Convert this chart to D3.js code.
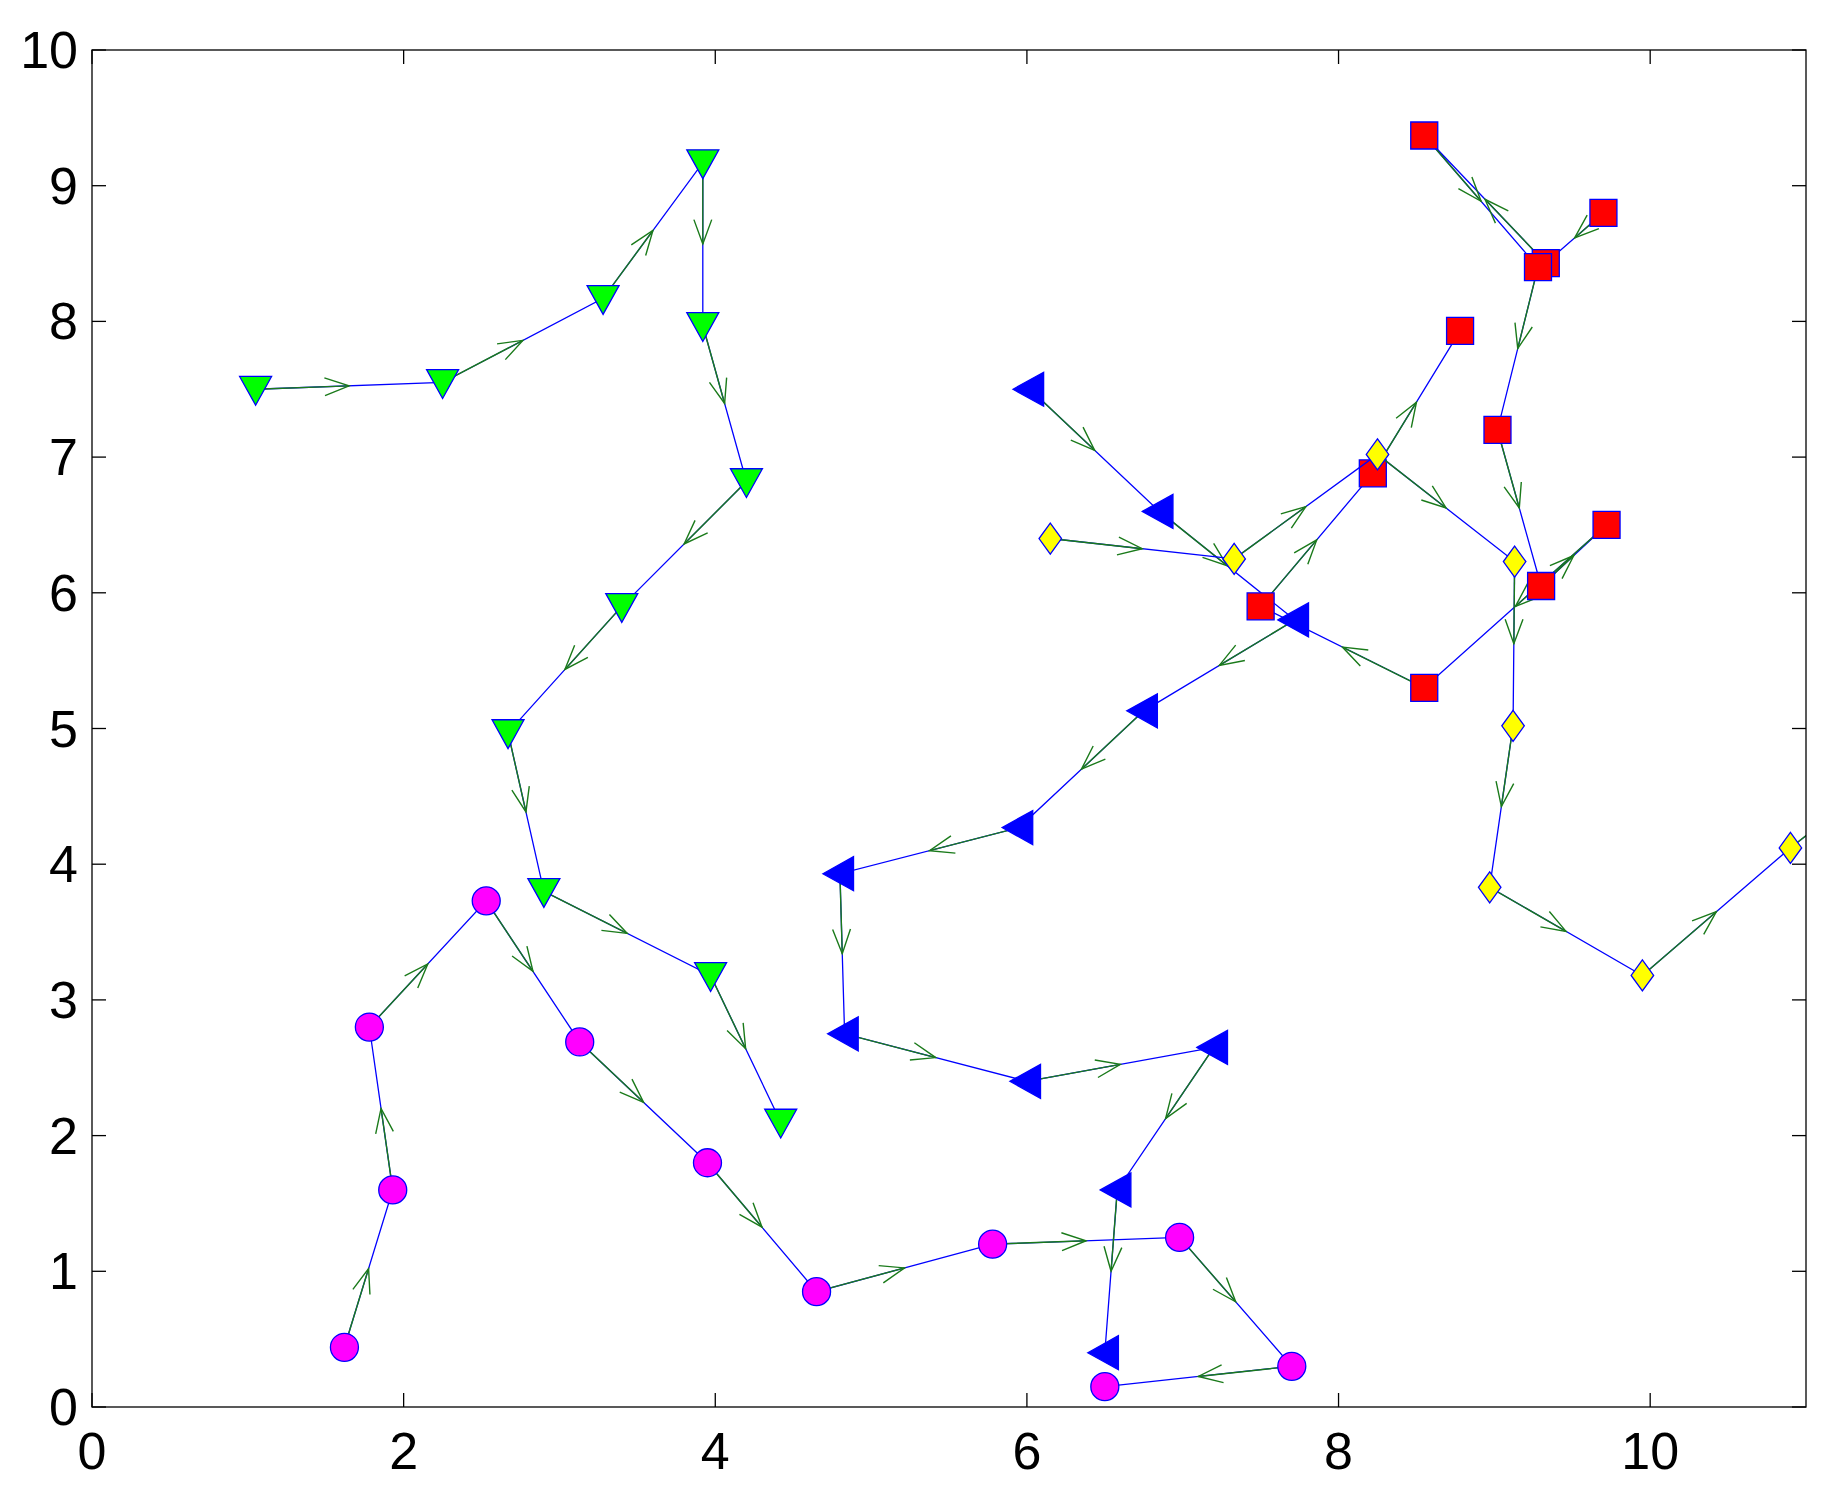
<!DOCTYPE html>
<html><head><meta charset="utf-8">
<script src="https://cdn.jsdelivr.net/npm/d3@7"></script>
<style>body{margin:0;background:#fff}svg{display:block}</style></head>
<body><svg id="c" width="1840" height="1500"></svg>
<script>
const xTicks=[0,2,4,6,8,10];
const yTicks=[0,1,2,3,4,5,6,7,8,9,10];
const circX=[1.62,1.93,1.78,2.53,3.13,3.95,4.65,5.78,6.98,7.70,6.50];
const circY=[0.44,1.60,2.80,3.73,2.69,1.80,0.85,1.20,1.25,0.30,0.15];
const downX=[1.05,2.25,3.28,3.92,3.92,4.20,3.40,2.67,2.90,3.97,4.42];
const downY=[7.50,7.55,8.17,9.17,7.97,6.82,5.90,4.97,3.80,3.18,2.10];
const leftX=[6.02,6.85,7.72,6.75,5.95,4.80,4.83,6.00,7.20,6.58,6.50];
const leftY=[7.50,6.60,5.80,5.13,4.27,3.93,2.75,2.40,2.65,1.60,0.40];
const sqX=[9.70,9.33,8.55,9.28,9.02,9.30,9.72,8.55,7.50,8.22,8.78];
const sqY=[8.80,8.43,9.37,8.40,7.20,6.05,6.50,5.30,5.90,6.88,7.93];
const diaX=[6.15,7.33,8.25,9.13,9.12,8.97,9.95,10.90,11.60];
const diaY=[6.40,6.25,7.02,6.23,5.02,3.83,3.18,4.12,4.75];

const svg=d3.select("#c");
const L=92,R=1806,T=50,B=1407;
const x=d3.scaleLinear().domain([0,11]).range([L,R]);
const y=d3.scaleLinear().domain([0,10]).range([B,T]);
svg.append("defs").append("clipPath").attr("id","clip").append("rect").attr("x",L).attr("y",T).attr("width",R-L).attr("height",B-T);
const g=svg.append("g").attr("clip-path","url(#clip)");

function series(X,Y,shape,fill,size,nMarks){
  const pts=X.map((v,i)=>[x(v),y(Y[i])]);
  g.append("path").attr("d",d3.line()(pts)).attr("fill","none").attr("stroke","#0000ff").attr("stroke-width",1.3);
  for(let i=0;i<pts.length-1;i++){
    const [x0,y0]=pts[i],[x1,y1]=pts[i+1];
    const mx=(x0+x1)/2,my=(y0+y1)/2;
    const a=Math.atan2(y1-y0,x1-x0),h=26,w=0.35;
    g.append("line").attr("x1",x0).attr("y1",y0).attr("x2",mx).attr("y2",my).attr("stroke","#1a7a1a").attr("stroke-width",1.4);
    g.append("path").attr("d",`M${mx-h*Math.cos(a-w)},${my-h*Math.sin(a-w)}L${mx},${my}L${mx-h*Math.cos(a+w)},${my-h*Math.sin(a+w)}`)
      .attr("fill","none").attr("stroke","#1a7a1a").attr("stroke-width",1.4);
  }
  pts.slice(0,nMarks).forEach(p=>{
    g.append("path").attr("transform",`translate(${p[0]},${p[1]})`).attr("d",shape(size))
      .attr("fill",fill).attr("stroke","#0000ff").attr("stroke-width",1.3);
  });
}
const circ=s=>d3.symbol(d3.symbolCircle,s*s*Math.PI/4)();
const sq=s=>`M${-s/2},${-s/2}h${s}v${s}h${-s}Z`;
const tdown=s=>`M${-s/2},${-s*0.4}L${s/2},${-s*0.4}L0,${s*0.5}Z`;
const tleft=s=>`M${-s*0.5},0L${s*0.4},${-s/2}L${s*0.4},${s/2}Z`;
const dia=s=>`M0,${-s*0.62}L${s*0.45},0L0,${s*0.62}L${-s*0.45},0Z`;

series(circX,circY,circ,"#ff00ff",28,11);
series(downX,downY,tdown,"#00ff00",32,11);
series(leftX,leftY,tleft,"#0000ff",34,11);
series(sqX,sqY,sq,"#ff0000",27,11);
series(diaX,diaY,dia,"#ffff00",25,8);

svg.append("rect").attr("x",L).attr("y",T).attr("width",R-L).attr("height",B-T).attr("fill","none").attr("stroke","#000").attr("stroke-width",1.3);
const tl=14;
xTicks.forEach(t=>{
  svg.append("line").attr("x1",x(t)).attr("x2",x(t)).attr("y1",B).attr("y2",B-tl).attr("stroke","#000").attr("stroke-width",1.3);
  svg.append("line").attr("x1",x(t)).attr("x2",x(t)).attr("y1",T).attr("y2",T+tl).attr("stroke","#000").attr("stroke-width",1.3);
  svg.append("text").attr("x",x(t)).attr("y",B+62).attr("text-anchor","middle").attr("font-family","Liberation Sans, Arial, sans-serif").attr("font-size",52).text(t);
});
yTicks.forEach(t=>{
  svg.append("line").attr("x1",L).attr("x2",L+tl).attr("y1",y(t)).attr("y2",y(t)).attr("stroke","#000").attr("stroke-width",1.3);
  svg.append("line").attr("x1",R).attr("x2",R-tl).attr("y1",y(t)).attr("y2",y(t)).attr("stroke","#000").attr("stroke-width",1.3);
  svg.append("text").attr("x",L-14).attr("y",y(t)+18).attr("text-anchor","end").attr("font-family","Liberation Sans, Arial, sans-serif").attr("font-size",52).text(t);
});
</script></body></html>
